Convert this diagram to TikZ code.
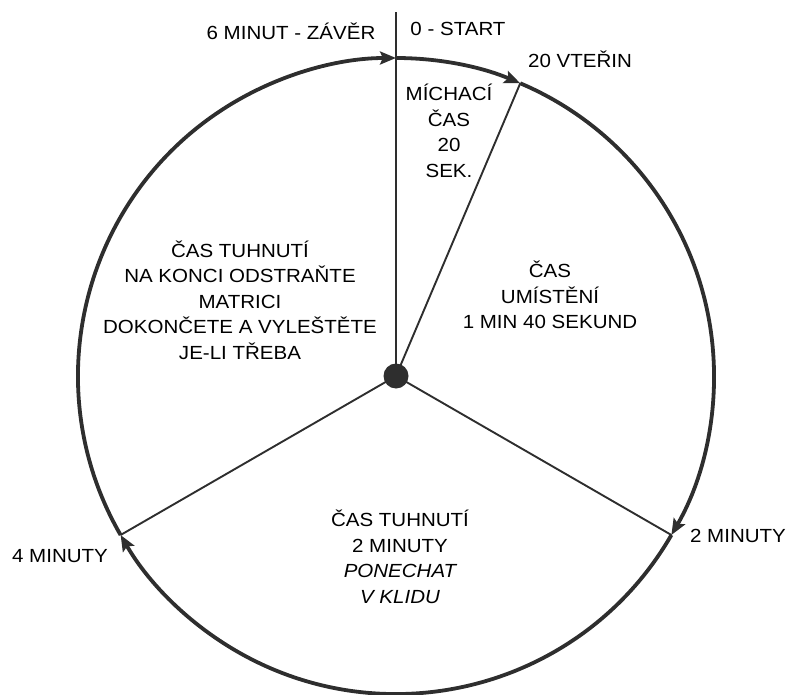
\documentclass[tikz,border=0pt]{standalone}
\usepackage{fontspec}
\setmainfont{Liberation Sans}[FakeStretch=1.08]
\usetikzlibrary{arrows.meta}
\definecolor{ink}{HTML}{2E2E2E}
\begin{document}
\begin{tikzpicture}[x=1pt,y=-1pt,
  arcline/.style={draw=ink,line width=3.8pt,-{Stealth[length=16pt,width=13pt,inset=3pt]}},
  radial/.style={draw=ink,line width=1.9pt},
  lbl/.style={font=\fontsize{19}{25.5}\selectfont,text=black,inner sep=0pt,align=center},
  hub/.style={circle,fill=ink,draw=none,minimum size=25pt,inner sep=0pt}]
\useasboundingbox (0,0) rectangle (789,695);
\coordinate (c) at (396,376);
\path (c) ++(-90:318) coordinate (p0);
\path (c) ++(-67:318) coordinate (p20);
\path (c) ++(30:318) coordinate (p2);
\path (c) ++(150:318) coordinate (p4);
\coordinate (ptop) at (396,12);
% arcs with arrowheads
\draw[arcline] (p0) arc[start angle=-90,end angle=-67,radius=318];
\draw[arcline] (p20) arc[start angle=-67,end angle=30,radius=318];
\draw[arcline] (p2) arc[start angle=30,end angle=150,radius=318];
\draw[arcline] (p4) arc[start angle=150,end angle=270,radius=318];
% radial lines
\draw[radial] (c) -- (ptop);
\draw[radial] (c) -- (p20);
\draw[radial] (c) -- (p2);
\draw[radial] (c) -- (p4);
\node[hub] (hubdot) at (c) {};
% outer labels
\node[lbl,anchor=base] (lstart) at (458,36) {0 - START};
\node[lbl,anchor=base] (l20) at (580,68) {20 VTEŘIN};
\node[lbl,anchor=base] (l6) at (291,40) {6 MINUT - ZÁVĚR};
\node[lbl,anchor=base] (l2) at (738,542) {2 MINUTY};
\node[lbl,anchor=base] (l4) at (60,562) {4 MINUTY};
% sector labels
\node[lbl] (smix) at (449,131) {MÍCHACÍ\\ČAS\\20\\SEK.};
\node[lbl] (splace) at (550,295) {ČAS\\UMÍSTĚNÍ\\1 MIN 40 SEKUND};
\node[lbl] (sset) at (400,557) {ČAS TUHNUTÍ\\2 MINUTY\\\itshape PONECHAT\\\itshape V KLIDU};
\node[lbl] (sfin) at (240,300) {ČAS TUHNUTÍ\\NA KONCI ODSTRAŇTE\\MATRICI\\DOKONČETE A VYLEŠTĚTE\\JE-LI TŘEBA};
\end{tikzpicture}
\end{document}
